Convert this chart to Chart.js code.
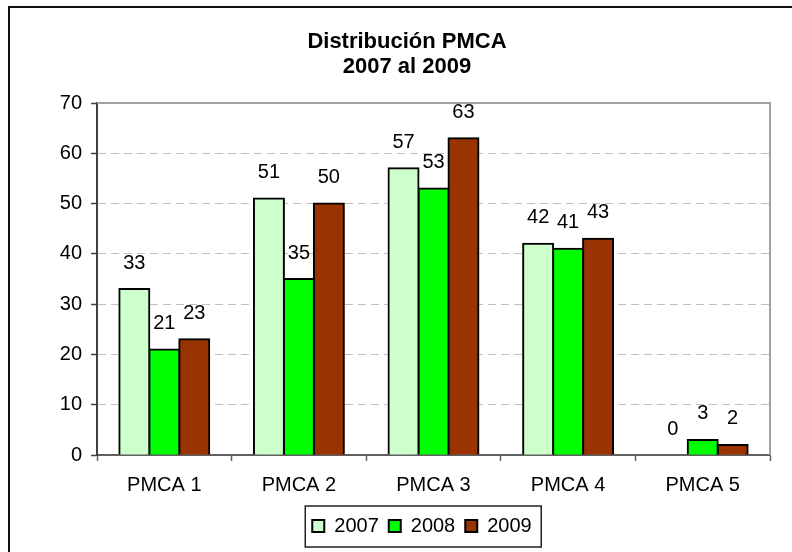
<!DOCTYPE html>
<html>
<head>
<meta charset="utf-8">
<script src="https://cdn.jsdelivr.net/npm/chart.js@4/dist/chart.umd.min.js"></script>
<style>
  body { margin: 0; background: #fff; }
  canvas { display: block; }
</style>
</head>
<body>
<canvas id="myChart" width="792" height="552"></canvas>
<script>
const categories = ['PMCA 1', 'PMCA 2', 'PMCA 3', 'PMCA 4', 'PMCA 5'];
const years = ['2007', '2008', '2009'];
const v2007 = [33, 51, 57, 42, 0];
const v2008 = [21, 35, 53, 41, 3];
const v2009 = [23, 50, 63, 43, 2];
const yMin = 0, yMax = 70, yStep = 10;
const titleLines = ['Distribución PMCA', '2007 al 2009'];

const font = '"Liberation Sans", Arial, sans-serif';

// frame + plot border + legend box + value labels
const extras = {
    id: 'extras',
    afterLayout(chart) {
        // legend sits a bit right of centre in the original
        chart.legend.left += 15;
        chart.legend.right += 15;
    },
    beforeDraw(chart) {
        const c = chart.ctx;
        c.save();
        c.fillStyle = '#fff';
        c.fillRect(0, 0, chart.width, chart.height);
        c.fillStyle = '#111';
        c.fillRect(8, 6, 2, chart.height - 6);
        c.fillRect(8, 6, chart.width - 8, 2);
        c.restore();
    },
    afterDraw(chart) {
        const c = chart.ctx;
        const a = chart.chartArea;
        c.save();
        c.strokeStyle = '#a0a0a0';
        c.lineWidth = 2;
        c.beginPath();
        c.moveTo(a.left, a.top);
        c.lineTo(a.right, a.top);
        c.lineTo(a.right, a.bottom);
        c.stroke();

        const lg = chart.legend;
        const hb = lg.legendHitBoxes;
        if (hb && hb.length) {
            const last = hb[hb.length - 1];
            c.strokeStyle = '#222';
            c.lineWidth = 1.5;
            c.strokeRect(hb[0].left - 7, lg.top, last.left + last.width - hb[0].left + 16.5, lg.height + 1);
        }
        c.restore();
    },
    afterDatasetsDraw(chart) {
        const c = chart.ctx;
        c.save();
        c.font = '20px ' + font;
        c.fillStyle = '#000';
        c.textAlign = 'center';
        c.textBaseline = 'middle';
        chart.data.datasets.forEach((ds, i) => {
            chart.getDatasetMeta(i).data.forEach((bar, j) => {
                c.fillText(String(ds.data[j]), bar.x, bar.y - 26);
            });
        });
        c.restore();
    }
};

const ctx = document.getElementById('myChart');
new Chart(ctx, {
    type: 'bar',
    data: {
        labels: categories,
        datasets: [
            { label: years[0], data: v2007, backgroundColor: '#ccffcc' },
            { label: years[1], data: v2008, backgroundColor: '#00ff00' },
            { label: years[2], data: v2009, backgroundColor: '#993300' }
        ]
    },
    options: {
        responsive: false,
        animation: false,
        devicePixelRatio: 1,
        layout: { padding: { left: 44, right: 22, top: 0, bottom: 6 } },
        datasets: {
            bar: {
                borderColor: '#000',
                borderWidth: 2,
                inflateAmount: 1,
                barPercentage: 1,
                categoryPercentage: 0.668
            }
        },
        plugins: {
            tooltip: { enabled: false },
            title: {
                display: true,
                text: titleLines,
                color: '#000',
                font: { family: font, size: 22, weight: 'bold', lineHeight: 25 / 22 },
                padding: { top: 29.5, bottom: 23.5 }
            },
            legend: {
                position: 'bottom',
                labels: {
                    color: '#000',
                    font: { family: font, size: 20 },
                    boxWidth: 12,
                    boxHeight: 12,
                    padding: 10
                }
            }
        },
        scales: {
            x: {
                grid: {
                    offset: true,
                    drawOnChartArea: false,
                    drawTicks: true,
                    tickLength: 6,
                    tickColor: '#606060',
                    tickWidth: 1.5
                },
                border: { color: '#606060', width: 2 },
                ticks: {
                    color: '#000',
                    font: { family: font, size: 20 },
                    padding: 12
                },
                afterFit(scale) { scale.height = 51; }
            },
            y: {
                min: yMin,
                max: yMax,
                ticks: {
                    stepSize: yStep,
                    color: '#000',
                    font: { family: font, size: 20 },
                    padding: 9
                },
                grid: {
                    color: (c) => (c.tick && (c.tick.value === yMin || c.tick.value === yMax)) ? 'rgba(0,0,0,0)' : '#c0c0c0',
                    lineWidth: 1,
                    tickLength: 6,
                    tickColor: '#404040',
                    tickWidth: 1.5,
                    tickBorderDash: []
                },
                border: { color: '#404040', width: 2, dash: [8, 5] },
                afterFit(scale) { scale.width = 53; }
            }
        }
    },
    plugins: [extras]
});
</script>
</body>
</html>
